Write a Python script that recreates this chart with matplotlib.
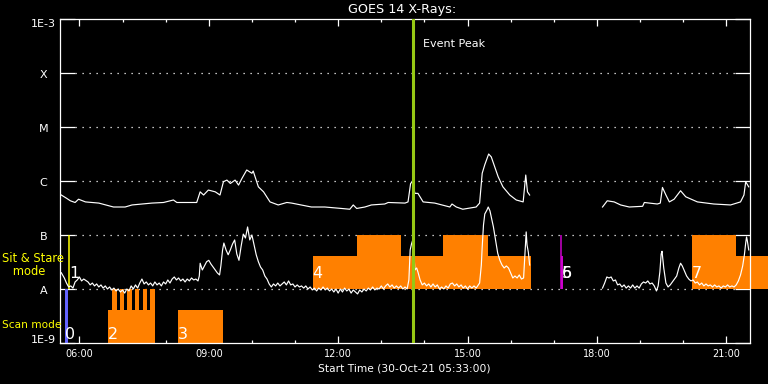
import numpy as np
import matplotlib
matplotlib.use('Agg')
import matplotlib.pyplot as plt
from matplotlib import transforms
from matplotlib.ticker import NullLocator

nan = float('nan')

# ---------------- data (time in decimal hours, flux in W/m^2) ----------------
long_t = [5.58, 5.70, 5.79, 5.90, 5.98, 6.14, 6.45, 6.79, 7.06, 7.22,
          7.68, 7.95, 8.18, 8.26, 8.72, 8.80, 8.88, 8.99, 9.15, 9.26,
          9.34, 9.42, 9.50, 9.61, 9.69, 9.77, 9.88, 9.94, 10.00, 10.03,
          10.15, 10.27, 10.42, 10.61, 10.81, 10.92, 11.38, 11.69, 12.08, 12.27,
          12.35, 12.43, 12.62, 12.77, 13.08, 13.16, 13.55, 13.62, 13.68, 13.72,
          13.78, 13.85, 13.97, 14.24, 14.59, 14.64, 14.74, 14.89, 15.20, 15.28,
          15.34, 15.40, 15.49, 15.55, 15.71, 15.82, 15.98, 16.13, 16.29, 16.35,
          16.39, 16.44, nan,
          18.13, 18.24, 18.40, 18.55, 18.75, 19.06, 19.10, 19.40, 19.47, 19.52,
          19.60, 19.68, 19.79, 19.94, 20.06, 20.33, 20.71, 21.10, 21.33, 21.41,
          21.45, 21.52]
long_f = [5.5e-7, 4.8e-7, 4.3e-7, 4.0e-7, 4.6e-7, 4.1e-7, 3.9e-7, 3.3e-7, 3.3e-7, 3.6e-7,
          3.9e-7, 4.0e-7, 4.45e-7, 4.0e-7, 4.0e-7, 6.3e-7, 5.5e-7, 6.8e-7, 6.3e-7, 5.5e-7,
          9.7e-7, 1.04e-6, 9.0e-7, 1.04e-6, 8.4e-7, 1.12e-6, 1.6e-6, 1.49e-6, 1.39e-6, 1.53e-6,
          7.8e-7, 6.3e-7, 4.1e-7, 3.6e-7, 4.0e-7, 3.9e-7, 3.3e-7, 3.3e-7, 3.1e-7, 3.0e-7,
          3.6e-7, 3.1e-7, 3.3e-7, 3.6e-7, 3.75e-7, 4.0e-7, 3.9e-7, 4.1e-7, 9.0e-7, 9.7e-7,
          5.9e-7, 5.9e-7, 4.1e-7, 3.9e-7, 3.3e-7, 3.75e-7, 3.3e-7, 3.0e-7, 3.3e-7, 3.9e-7,
          1.39e-6, 2.0e-6, 3.16e-6, 2.8e-6, 1.2e-6, 7.8e-7, 5.5e-7, 4.45e-7, 4.1e-7, 1.29e-6,
          6.3e-7, 5.5e-7, nan,
          3.3e-7, 4.3e-7, 4.1e-7, 3.6e-7, 3.3e-7, 3.4e-7, 4.0e-7, 3.75e-7, 3.9e-7, 7.6e-7,
          5.5e-7, 4.1e-7, 4.6e-7, 6.6e-7, 5.1e-7, 4.1e-7, 3.75e-7, 3.6e-7, 4.1e-7, 5.5e-7,
          9.7e-7, 7.8e-7]

short_t = [5.58, 5.65, 5.70, 5.75, 5.80, 5.85, 5.90, 5.95, 6.00, 6.05,
           6.10, 6.20, 6.25, 6.30, 6.35, 6.40, 6.45, 6.50, 6.55, 6.60,
           6.65, 6.70, 6.75, 6.80, 6.85, 6.90, 6.95, 7.00, 7.05, 7.10,
           7.15, 7.20, 7.25, 7.30, 7.35, 7.40, 7.45, 7.50, 7.55, 7.60,
           7.65, 7.70, 7.75, 7.80, 7.85, 7.90, 7.95, 8.00, 8.05, 8.10,
           8.15, 8.20, 8.25, 8.30, 8.35, 8.40, 8.45, 8.50, 8.55, 8.60,
           8.65, 8.70, 8.75, 8.78, 8.80, 8.85, 8.90, 8.95, 9.00, 9.05,
           9.10, 9.15, 9.20, 9.25, 9.28, 9.32, 9.35, 9.40, 9.45, 9.50,
           9.55, 9.60, 9.65, 9.70, 9.75, 9.80, 9.85, 9.90, 9.95, 10.00,
           10.05, 10.10, 10.15, 10.20, 10.25, 10.30, 10.35, 10.40, 10.45, 10.50,
           10.55, 10.60, 10.65, 10.70, 10.75, 10.80, 10.85, 10.90, 10.95, 11.00,
           11.05, 11.10, 11.15, 11.20, 11.25, 11.30, 11.35, 11.40, 11.45, 11.50,
           11.55, 11.60, 11.65, 11.70, 11.75, 11.80, 11.85, 11.90, 11.95, 12.00,
           12.05, 12.10, 12.15, 12.20, 12.25, 12.30, 12.35, 12.40, 12.45, 12.50,
           12.55, 12.60, 12.65, 12.70, 12.75, 12.80, 12.85, 12.90, 12.95, 13.00,
           13.05, 13.10, 13.15, 13.20, 13.25, 13.30, 13.35, 13.40, 13.45, 13.50,
           13.55, 13.60, 13.64, 13.67, 13.70, 13.73, 13.76, 13.78, 13.82, 13.85,
           13.90, 13.95, 14.00, 14.05, 14.10, 14.15, 14.20, 14.25, 14.30, 14.35,
           14.40, 14.45, 14.50, 14.55, 14.60, 14.65, 14.70, 14.75, 14.80, 14.85,
           14.90, 14.95, 15.00, 15.05, 15.10, 15.15, 15.20, 15.25, 15.28, 15.32,
           15.34, 15.37, 15.40, 15.45, 15.48, 15.52, 15.55, 15.60, 15.65, 15.70,
           15.75, 15.80, 15.85, 15.90, 15.95, 16.00, 16.05, 16.10, 16.15, 16.20,
           16.25, 16.30, 16.33, 16.36, 16.38, 16.41, 16.44, nan, 18.13, 18.18,
           18.23, 18.28, 18.33, 18.38, 18.43, 18.48, 18.53, 18.58, 18.63, 18.68,
           18.73, 18.78, 18.83, 18.88, 18.93, 18.98, 19.03, 19.08, 19.13, 19.18,
           19.23, 19.28, 19.33, 19.38, 19.42, 19.46, 19.49, 19.51, 19.55, 19.60,
           19.65, 19.70, 19.75, 19.80, 19.85, 19.90, 19.94, 19.98, 20.03, 20.08,
           20.13, 20.18, 20.23, 20.28, 20.33, 20.38, 20.43, 20.48, 20.53, 20.58,
           20.63, 20.68, 20.73, 20.78, 20.83, 20.88, 20.93, 20.98, 21.03, 21.08,
           21.13, 21.18, 21.23, 21.28, 21.33, 21.38, 21.42, 21.45, 21.47, 21.49,
           21.52]
short_f = [2.0e-8, 1.6e-8, 1.29e-8, 1.09e-8, 1.14e-8, 1.04e-8, 1.35e-8, 1.47e-8, 1.67e-8, 1.41e-8,
           1.53e-8, 1.35e-8, 1.19e-8, 1.29e-8, 1.14e-8, 1.24e-8, 1.09e-8, 1.19e-8, 1.04e-8, 1.14e-8,
           1.0e-8, 1.09e-8, 9.6e-9, 1.04e-8, 9.2e-9, 1.0e-8, 8.8e-9, 9.6e-9, 8.4e-9, 1.0e-8,
           9.2e-9, 1.14e-8, 1.0e-8, 1.19e-8, 1.04e-8, 1.29e-8, 1.53e-8, 1.24e-8, 1.35e-8, 1.19e-8,
           1.29e-8, 1.14e-8, 1.35e-8, 1.19e-8, 1.29e-8, 1.14e-8, 1.35e-8, 1.24e-8, 1.47e-8, 1.29e-8,
           1.53e-8, 1.67e-8, 1.47e-8, 1.6e-8, 1.41e-8, 1.53e-8, 1.35e-8, 1.53e-8, 1.41e-8, 1.6e-8,
           1.47e-8, 1.53e-8, 1.41e-8, 1.74e-8, 3.0e-8, 2.25e-8, 2.67e-8, 3.2e-8, 3.4e-8, 2.9e-8,
           2.55e-8, 2.25e-8, 1.98e-8, 1.82e-8, 2.67e-8, 5.3e-8, 7.1e-8, 5.3e-8, 4.3e-8, 5.3e-8,
           6.8e-8, 8.1e-8, 4.45e-8, 3.4e-8, 6.2e-8, 1.04e-7, 8.8e-8, 1.41e-7, 8.1e-8, 1.0e-7,
           6.5e-8, 4.3e-8, 3.2e-8, 2.55e-8, 2.25e-8, 1.74e-8, 1.53e-8, 1.24e-8, 1.09e-8, 1.24e-8,
           1.14e-8, 1.29e-8, 1.14e-8, 1.24e-8, 1.35e-8, 1.19e-8, 1.41e-8, 1.19e-8, 1.24e-8, 1.09e-8,
           1.19e-8, 1.09e-8, 1.14e-8, 1.04e-8, 1.14e-8, 1.0e-8, 1.09e-8, 9.6e-9, 1.04e-8, 9.2e-9,
           1.04e-8, 9.6e-9, 1.09e-8, 9.6e-9, 1.04e-8, 9.2e-9, 1.0e-8, 8.8e-9, 1.0e-8, 8.4e-9,
           1.0e-8, 8.8e-9, 1.04e-8, 9.2e-9, 1.0e-8, 8.4e-9, 9.6e-9, 8.8e-9, 8.1e-9, 9.6e-9,
           8.8e-9, 1.0e-8, 9.2e-9, 1.04e-8, 9.6e-9, 1.09e-8, 9.6e-9, 1.04e-8, 1.0e-8, 1.14e-8,
           1.0e-8, 1.14e-8, 1.24e-8, 1.09e-8, 1.19e-8, 1.04e-8, 1.14e-8, 1.04e-8, 1.14e-8, 1.0e-8,
           1.09e-8, 1.0e-8, 1.47e-8, 5.3e-8, 6.8e-8, 8.1e-8, 4.1e-8, 2.25e-8, 2.45e-8, 2.07e-8,
           1.47e-8, 1.19e-8, 1.29e-8, 1.14e-8, 1.24e-8, 1.09e-8, 1.24e-8, 1.09e-8, 1.19e-8, 1.0e-8,
           1.09e-8, 1.0e-8, 1.14e-8, 1.04e-8, 1.24e-8, 1.29e-8, 1.14e-8, 1.24e-8, 1.09e-8, 1.19e-8,
           1.04e-8, 1.14e-8, 1.0e-8, 1.14e-8, 1.04e-8, 1.14e-8, 1.04e-8, 1.19e-8, 1.29e-8, 2.78e-8,
           6.0e-8, 1.53e-7, 2.45e-7, 2.9e-7, 3.3e-7, 2.8e-7, 2.15e-7, 1.41e-7, 8.1e-8, 4.6e-8,
           3.4e-8, 2.78e-8, 2.45e-8, 2.67e-8, 2.45e-8, 1.98e-8, 1.6e-8, 1.74e-8, 1.6e-8, 1.82e-8,
           1.53e-8, 1.6e-8, 4.3e-8, 1.14e-7, 6.5e-8, 4.8e-8, 2.78e-8, nan, 1.04e-8, 1.29e-8,
           1.67e-8, 1.6e-8, 1.67e-8, 1.41e-8, 1.47e-8, 1.19e-8, 1.24e-8, 1.09e-8, 1.19e-8, 1.04e-8,
           1.14e-8, 1.04e-8, 1.19e-8, 1.04e-8, 1.14e-8, 1.04e-8, 1.24e-8, 1.35e-8, 1.29e-8, 1.41e-8,
           1.24e-8, 1.29e-8, 1.14e-8, 9.2e-9, 1.14e-8, 2.07e-8, 4.45e-8, 5.0e-8, 2.45e-8, 1.29e-8,
           1.09e-8, 1.19e-8, 1.35e-8, 1.53e-8, 1.74e-8, 2.45e-8, 3.0e-8, 2.67e-8, 2.15e-8, 1.74e-8,
           1.53e-8, 1.41e-8, 1.47e-8, 1.29e-8, 1.35e-8, 1.19e-8, 1.29e-8, 1.14e-8, 1.24e-8, 1.14e-8,
           1.19e-8, 1.09e-8, 1.19e-8, 1.09e-8, 1.14e-8, 1.04e-8, 1.14e-8, 1.09e-8, 1.19e-8, 1.09e-8,
           1.14e-8, 1.09e-8, 1.19e-8, 1.41e-8, 1.82e-8, 2.67e-8, 4.3e-8, 7.1e-8, 9.2e-8, 7.7e-8,
           5.3e-8]

level_vals = [1e-9, 1e-8, 1e-7, 1e-6, 1e-5, 1e-4, 1e-3]
level_names = ['1E-9', 'A', 'B', 'C', 'M', 'X', '1E-3']

hour_ticks = [6, 7, 8, 9, 10, 11, 12, 13, 14, 15, 16, 17, 18, 19, 20, 21]
major_hours = [6, 9, 12, 15, 18, 21]
major_labels = ['06:00', '09:00', '12:00', '15:00', '18:00', '21:00']

# observation blocks
bar_start = [5.66, 6.656, 6.756, 6.941, 7.111, 7.289, 7.468, 7.644, 8.293,
             11.424, 12.430, 14.438, 17.157, 20.205, 21.225]
bar_end = [5.742, 7.753, 6.865, 7.034, 7.213, 7.389, 7.560, 7.753, 9.323,
           16.472, 13.457, 15.468, 17.203, 21.225, 21.967]
bar_bottom = [1e-9, 1e-9, 1e-9, 1e-9, 1e-9, 1e-9, 1e-9, 1e-9, 1e-9,
              1e-8, 1e-8, 1e-8, 1e-8, 1e-8, 1e-8]
bar_top = [1e-8, 4.1e-9, 1e-8, 1e-8, 1e-8, 1e-8, 1e-8, 1e-8, 4.1e-9,
           4.1e-8, 1e-7, 1e-7, 4.1e-8, 1e-7, 4.1e-8]
bar_color = ['#6464ff'] + ['#ff8000'] * 11 + ['#cc00cc'] + ['#ff8000'] * 2

line_t = [5.757, 17.17]
line_color = ['#ffff00', '#cc00cc']

obs_labels = ['0', '1', '2', '3', '4', '5', '6', '7']
obs_label_t = [5.67, 5.77, 6.66, 8.28, 11.41, 17.19, 17.19, 20.21]
obs_label_f = [1.17e-9, 1.6e-8, 1.17e-9, 1.17e-9, 1.6e-8, 1.6e-8, 1.6e-8, 1.6e-8]

event_peak = 13.729

# ---------------- figure ----------------
fig = plt.figure(figsize=(7.68, 3.84), dpi=100, facecolor='black')
ax = fig.add_axes([60 / 768, 41 / 384, 690 / 768, 324 / 384])
ax.set_facecolor('black')
ax.set_yscale('log')

# grid lines (dotted)
for v in level_vals[1:6]:
    ax.axhline(v, xmin=15 / 690, xmax=1 - 14 / 690, color='white',
               lw=0.9, linestyle=(0, (1, 4.6)), zorder=1)

# observation bars
heights = [t - b for t, b in zip(bar_top, bar_bottom)]
widths = [e - s for e, s in zip(bar_end, bar_start)]
ax.bar(bar_start, heights, width=widths, bottom=bar_bottom, align='edge',
       color=bar_color, linewidth=0, clip_on=False, zorder=2)
ax.vlines(line_t, 1e-8, 1e-7, colors=line_color, lw=1.1, zorder=2)

# GOES curves
ax.plot(long_t, long_f, color='white', lw=0.85, zorder=3)
ax.plot(short_t, short_f, color='white', lw=0.85, zorder=3)

# event peak line
ax.axvline(event_peak, color='#96c814', lw=2.2, zorder=4)

ax.set_xlim(5.55, 21.55)
ax.set_ylim(1e-9, 1e-3)

# spines and ticks
for s in ax.spines.values():
    s.set_color('white')
    s.set_linewidth(0.9)
ax.set_yticks(level_vals)
ax.yaxis.set_minor_locator(NullLocator())
ax.tick_params(axis='y', which='major', direction='in', length=10.8, width=0.9,
               color='white', left=True, right=True, labelleft=False)
ax.set_xticks(major_hours, labels=major_labels)
ax.set_xticks(hour_ticks, minor=True)
ax.tick_params(axis='x', which='major', direction='in', length=4.8, width=0.9,
               color='white', labelcolor='white', labelsize=7, top=True, bottom=True, pad=4.5)
ax.tick_params(axis='x', which='minor', direction='in', length=2.4, width=0.9,
               color='white', top=True, bottom=True)

# y labels
ytrans = transforms.blended_transform_factory(ax.transAxes, ax.transData)
offsets = [0, -4.5, -4.5, -4.5, -4.5, -4.5, -8]
for v, name, off in zip(level_vals, level_names, offsets):
    tr = transforms.offset_copy(ytrans, fig=fig, x=0, y=off, units='dots')
    ax.text(-0.0239, v, name, transform=tr, ha='center', va='baseline',
            color='white', fontsize=8)

# observation labels
for lab, t, f in zip(obs_labels, obs_label_t, obs_label_f):
    ax.text(t, f, lab, color='white', fontsize=11.5, ha='left', va='baseline', zorder=5)

# texts
ax.text(0.4957, 1.0170, 'GOES 14 X-Rays:', transform=ax.transAxes, ha='center',
        va='baseline', color='white', fontsize=9.2)
ax.text(0.4993, -0.0886, 'Start Time (30-Oct-21 05:33:00)', transform=ax.transAxes,
        ha='center', va='baseline', color='white', fontsize=7.7)
xtrans = transforms.blended_transform_factory(ax.transData, ax.transAxes)
ax.text(event_peak + 0.238, 0.9136, 'Event Peak', transform=xtrans, ha='left',
        va='baseline', color='white', fontsize=8)
ax.text(-0.0841, 0.2099, 'Sit & Stare\n   mode', transform=ax.transAxes, ha='left',
        va='baseline', multialignment='left', linespacing=0.95,
        color='#ffff00', fontsize=8.3)
ax.text(-0.0841, 0.0463, 'Scan mode', transform=ax.transAxes, ha='left',
        va='baseline', color='#ffff00', fontsize=7.6)

fig.savefig('out.png', dpi=100, facecolor='black')
